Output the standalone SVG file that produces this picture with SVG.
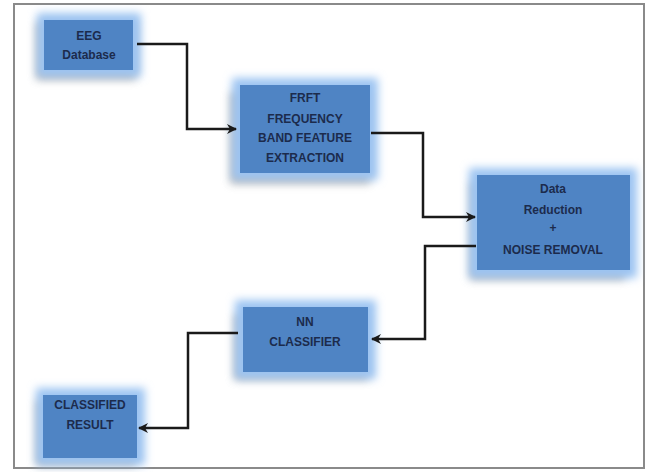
<svg xmlns="http://www.w3.org/2000/svg" width="651" height="472" viewBox="0 0 651 472">
<style>
.box{fill:#4f84c4}
.glow{fill:#9cc4f2}
.shadow{fill:#7a7a7a}
.lbl{font-family:"Liberation Sans",Arial,sans-serif;font-weight:bold;font-size:12px;fill:#1c2b4c;text-anchor:middle}
.conn{fill:none;stroke:#1a1a1a;stroke-width:2.5}
</style>
<defs>
<filter id="blur" x="-30%" y="-30%" width="160%" height="160%"><feGaussianBlur stdDeviation="4"/></filter>
<marker id="ah" viewBox="0 0 10 10" refX="9" refY="5" markerWidth="4" markerHeight="4" orient="auto" markerUnits="strokeWidth">
<path d="M0,0 L10,5 L0,10 L3,5 z" fill="#1a1a1a"/>
</marker>
</defs>
<rect x="0" y="0" width="651" height="472" fill="#ffffff"/>
<rect x="14" y="4" width="630" height="464" fill="#ffffff" stroke="#8a8a8a" stroke-width="2"/>

<g id="eeg">
<rect class="shadow" x="36" y="22" width="100" height="58" filter="url(#blur)" opacity="0.5"/>
<rect class="glow" x="37" y="13" width="104" height="64" filter="url(#blur)"/>
<rect class="box" x="44" y="20" width="89" height="50"/>
<text class="lbl" x="89" y="40">EEG</text>
<text class="lbl" x="89" y="59">Database</text>
</g>

<g id="frft">
<rect class="shadow" x="230" y="92" width="140" height="92" filter="url(#blur)" opacity="0.5"/>
<rect class="glow" x="232" y="78" width="146" height="102" filter="url(#blur)"/>
<rect class="box" x="240" y="85" width="130" height="88"/>
<text class="lbl" x="305" y="102">FRFT</text>
<text class="lbl" x="305" y="123">FREQUENCY</text>
<text class="lbl" x="305" y="142">BAND FEATURE</text>
<text class="lbl" x="305" y="162">EXTRACTION</text>
</g>

<g id="datared">
<rect class="shadow" x="470" y="182" width="155" height="98" filter="url(#blur)" opacity="0.5"/>
<rect class="glow" x="469" y="168" width="168" height="110" filter="url(#blur)"/>
<rect class="box" x="477" y="175" width="153" height="95"/>
<text class="lbl" x="553" y="193">Data</text>
<text class="lbl" x="553" y="214">Reduction</text>
<text class="lbl" x="553" y="232">+</text>
<text class="lbl" x="553" y="254">NOISE REMOVAL</text>
</g>

<g id="nn">
<rect class="shadow" x="234" y="314" width="134" height="66" filter="url(#blur)" opacity="0.5"/>
<rect class="glow" x="235" y="300" width="141" height="79" filter="url(#blur)"/>
<rect class="box" x="243" y="307" width="125" height="65"/>
<text class="lbl" x="305" y="326">NN</text>
<text class="lbl" x="305" y="346">CLASSIFIER</text>
</g>

<g id="result">
<rect class="shadow" x="36" y="400" width="100" height="66" filter="url(#blur)" opacity="0.5"/>
<rect class="glow" x="36" y="388" width="109" height="77" filter="url(#blur)"/>
<rect class="box" x="43" y="395" width="94" height="63"/>
<text class="lbl" x="90" y="409">CLASSIFIED</text>
<text class="lbl" x="90" y="429">RESULT</text>
</g>

<g id="connectors">
<path class="conn" d="M137,44 H187 V129 H236" marker-end="url(#ah)"/>
<path class="conn" d="M371,133 H423 V217 H475" marker-end="url(#ah)"/>
<path class="conn" d="M476,246 H425 V339 H372" marker-end="url(#ah)"/>
<path class="conn" d="M238,333 H188 V428 H139" marker-end="url(#ah)"/>
</g>
</svg>
